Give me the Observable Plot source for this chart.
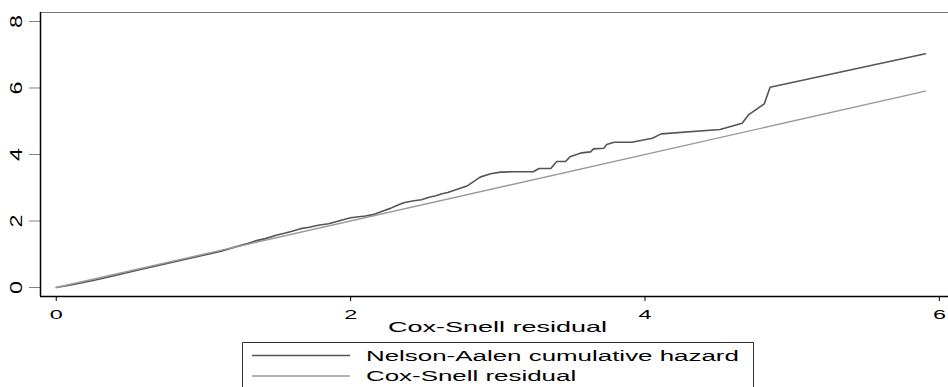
<!DOCTYPE html>
<html>
<head>
<meta charset="utf-8">
<script src="https://cdn.jsdelivr.net/npm/d3@7"></script>
<script src="https://cdn.jsdelivr.net/npm/@observablehq/plot@0.6"></script>
<style>
  html, body { margin: 0; padding: 0; background: white; }
  #wrap { position: relative; width: 948px; height: 387px; overflow: hidden; background: white; }
  #legend { position: absolute; left: 0; top: 340px; }
  text { font-family: "Liberation Sans", Arial, sans-serif; }
</style>
</head>
<body>
<div id="wrap"></div>
<script>
// Nelson-Aalen cumulative hazard of the Cox-Snell residuals
const naX = [0, 0.1, 0.25, 0.4, 0.55, 0.7, 0.85, 1.0, 1.12, 1.2, 1.3, 1.36, 1.42, 1.5, 1.55, 1.59, 1.66, 1.72, 1.78, 1.85, 1.9, 1.95, 2.0, 2.1, 2.16, 2.22, 2.27, 2.31, 2.36, 2.42, 2.48, 2.54, 2.58, 2.62, 2.66, 2.7, 2.74, 2.79, 2.84, 2.88, 2.95, 3.02, 3.1, 3.24, 3.28, 3.36, 3.4, 3.46, 3.49, 3.57, 3.63, 3.65, 3.72, 3.74, 3.79, 3.91, 4.05, 4.11, 4.51, 4.66, 4.705, 4.81, 4.85, 5.905];
const naY = [0, 0.08, 0.21, 0.36, 0.52, 0.67, 0.82, 0.97, 1.09, 1.2, 1.32, 1.41, 1.47, 1.58, 1.63, 1.68, 1.77, 1.81, 1.87, 1.92, 1.98, 2.04, 2.1, 2.15, 2.2, 2.3, 2.38, 2.46, 2.55, 2.6, 2.64, 2.72, 2.76, 2.82, 2.86, 2.92, 2.98, 3.05, 3.2, 3.32, 3.42, 3.47, 3.48, 3.48, 3.58, 3.58, 3.79, 3.79, 3.93, 4.05, 4.08, 4.17, 4.19, 4.3, 4.37, 4.37, 4.49, 4.62, 4.75, 4.94, 5.2, 5.52, 6.02, 7.03];
// Reference line: Cox-Snell residual vs itself
const csX = [0, 5.905];
const csY = [0, 5.905];

const xTicks = [0, 2, 4, 6];
const yTicks = [0, 2, 4, 6, 8];
const xDomain = [-0.107, 6.062];
const yDomain = [-0.27, 8.27];
const xLabel = "Cox-Snell residual";
const seriesNames = ["Nelson-Aalen cumulative hazard", "Cox-Snell residual"];
const seriesColors = ["#555555", "#9a9a9a"];

const na = naX.map((x, i) => ({x, y: naY[i]}));
const cs = csX.map((x, i) => ({x, y: csY[i]}));

const chart = Plot.plot({
  width: 948,
  height: 340,
  marginLeft: 40,
  marginRight: 0,
  marginTop: 12,
  marginBottom: 44,
  x: {domain: xDomain},
  y: {domain: yDomain},
  style: {fontFamily: "Liberation Sans, Arial, sans-serif", fontSize: "13px", background: "white", color: "black"},
  marks: [
    Plot.ruleY([yDomain[1]], {stroke: "#777", strokeWidth: 1}),
    Plot.axisX({ticks: xTicks, tickFormat: d => String(d), tickSize: 5, tickPadding: 8, label: null, stroke: "black", fill: "black", fontSize: 13}),
    Plot.axisY({ticks: yTicks, tickSize: 11, tickFormat: () => "", label: null, stroke: "#808080"}),
    Plot.text(yTicks, {y: d => d, text: d => String(d), frameAnchor: "left", dx: -24, rotate: -90, textAnchor: "middle", lineAnchor: "middle", fontSize: 16, fill: "black"}),
    Plot.text([xLabel], {text: d => d, frameAnchor: "bottom", dy: 31, dx: 3, textAnchor: "middle", lineAnchor: "middle", fontSize: 15, fill: "black"}),
    Plot.line(na, {x: "x", y: "y", stroke: seriesColors[0], strokeWidth: 1.6}),
    Plot.line(cs, {x: "x", y: "y", stroke: seriesColors[1], strokeWidth: 1.4}),
    Plot.ruleX([xDomain[0]], {stroke: "black", strokeWidth: 1.5}),
    Plot.ruleY([yDomain[0]], {stroke: "black", strokeWidth: 1.5})
  ]
});

const wrap = document.getElementById("wrap");
wrap.appendChild(chart);

// Legend below the plot
const ns = "http://www.w3.org/2000/svg";
const leg = document.createElementNS(ns, "svg");
leg.setAttribute("id", "legend");
leg.setAttribute("width", 948);
leg.setAttribute("height", 47);
const rect = document.createElementNS(ns, "rect");
rect.setAttribute("x", 242.5); rect.setAttribute("y", 2.5);
rect.setAttribute("width", 511); rect.setAttribute("height", 70);
rect.setAttribute("fill", "white"); rect.setAttribute("stroke", "#333"); rect.setAttribute("stroke-width", 1);
leg.appendChild(rect);
seriesNames.forEach((name, i) => {
  const yy = 15.5 + i * 20.5;
  const ln = document.createElementNS(ns, "line");
  ln.setAttribute("x1", 252); ln.setAttribute("x2", 350);
  ln.setAttribute("y1", yy); ln.setAttribute("y2", yy);
  ln.setAttribute("stroke", seriesColors[i]); ln.setAttribute("stroke-width", 1.5);
  leg.appendChild(ln);
  const t = document.createElementNS(ns, "text");
  t.setAttribute("x", 366); t.setAttribute("y", yy + 5);
  t.setAttribute("font-size", 14);
  t.setAttribute("fill", "black");
  t.textContent = name;
  leg.appendChild(t);
});
wrap.appendChild(leg);

// Stretch text horizontally to match the reference's wide glyphs
function stretch(el, f) {
  if (!el.textContent) return;
  const w = el.getComputedTextLength();
  if (w > 0) {
    el.setAttribute("textLength", (w * f).toFixed(2));
    el.setAttribute("lengthAdjust", "spacingAndGlyphs");
  }
}
chart.querySelectorAll("text").forEach(t => {
  const tr = t.getAttribute("transform") || "";
  if (tr.includes("rotate")) stretch(t, 1.45);
  else stretch(t, 1.8);
});
leg.querySelectorAll("text").forEach(t => stretch(t, 1.85));
</script>
</body>
</html>
